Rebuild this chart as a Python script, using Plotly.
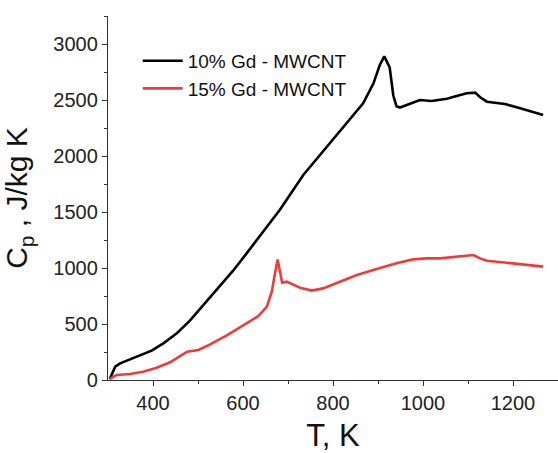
import plotly.graph_objects as go

# ---- data ----
T_10 = [304, 316, 327, 349, 371, 397, 423, 453, 482, 512, 541, 578, 608, 645, 682,
        734, 793, 838, 867, 890, 904, 914, 926, 934, 941, 949, 971, 993, 1019, 1053,
        1075, 1097, 1116, 1127, 1142, 1182, 1216, 1267]
cp_10 = [9, 119, 149, 185, 214, 262, 327, 417, 530, 670, 804, 976, 1131, 1324, 1520,
         1830, 2113, 2321, 2470, 2649, 2813, 2890, 2790, 2540, 2445, 2433, 2467, 2500, 2491, 2512,
         2536, 2560, 2566, 2524, 2485, 2464, 2426, 2366]

T_15 = [304, 319, 349, 378, 408, 438, 460, 476, 501, 527, 564, 601, 634, 653, 664,
        671, 677, 687, 697, 727, 753, 778, 816, 853, 897, 941, 978, 1008, 1038, 1082,
        1112, 1127, 1142, 1186, 1230, 1267]
cp_15 = [9, 45, 54, 74, 110, 158, 214, 253, 268, 318, 399, 491, 571, 655, 788,
         952, 1077, 869, 878, 824, 798, 818, 878, 938, 991, 1042, 1077, 1086, 1086, 1107,
         1116, 1086, 1065, 1047, 1027, 1012]

names = ["10% Gd - MWCNT", "15% Gd - MWCNT"]
x_ticks = [400, 600, 800, 1000, 1200]
y_ticks = [0, 500, 1000, 1500, 2000, 2500, 3000]

FONT = "Liberation Sans, Arial, sans-serif"
AX = "#333333"

fig = go.Figure()
fig.add_trace(go.Scatter(x=T_10, y=cp_10, mode="lines", name=names[0],
                         line=dict(color="black", width=2.6)))
fig.add_trace(go.Scatter(x=T_15, y=cp_15, mode="lines", name=names[1],
                         line=dict(color="#f03a3a", width=2.6)))

axis_common = dict(showgrid=False, zeroline=False, showline=True, linecolor=AX,
                   linewidth=1.3, ticks="outside", ticklen=5, tickwidth=1.3,
                   tickcolor=AX, mirror=False,
                   tickfont=dict(family=FONT, size=20, color="#222222"))

fig.update_xaxes(range=[300, 1300], tickvals=x_ticks,
                 minor=dict(ticks="outside", ticklen=3, tickwidth=1.2, tickcolor=AX,
                            tickvals=[500, 700, 900, 1100]),
                 title=dict(text="T, K", font=dict(family=FONT, size=31, color="#111111"),
                            standoff=13),
                 **axis_common)
fig.update_yaxes(range=[0, 3250], tickvals=y_ticks,
                 minor=dict(ticks="outside", ticklen=3, tickwidth=1.2, tickcolor=AX,
                            tickvals=[250, 750, 1250, 1750, 2250, 2750, 3250]),
                 title=dict(text="C<sub>p</sub> , J/kg K",
                            font=dict(family=FONT, size=30, color="#111111"), standoff=16),
                 **axis_common)

fig.update_layout(
    width=558, height=453,
    margin=dict(l=108, r=0, t=16, b=73, autoexpand=False),
    plot_bgcolor="white", paper_bgcolor="white",
    font=dict(family=FONT, color="#111111"),
    legend=dict(x=0.066, y=0.929, xanchor="left", yanchor="top",
                bgcolor="rgba(0,0,0,0)", borderwidth=0,
                font=dict(family=FONT, size=19, color="#111111"),
                tracegroupgap=0, itemwidth=40),
    showlegend=True,
)

fig.write_html("out.html", config={"displayModeBar": False},
               post_script="document.body.style.margin='0';document.body.style.overflow='hidden';")
